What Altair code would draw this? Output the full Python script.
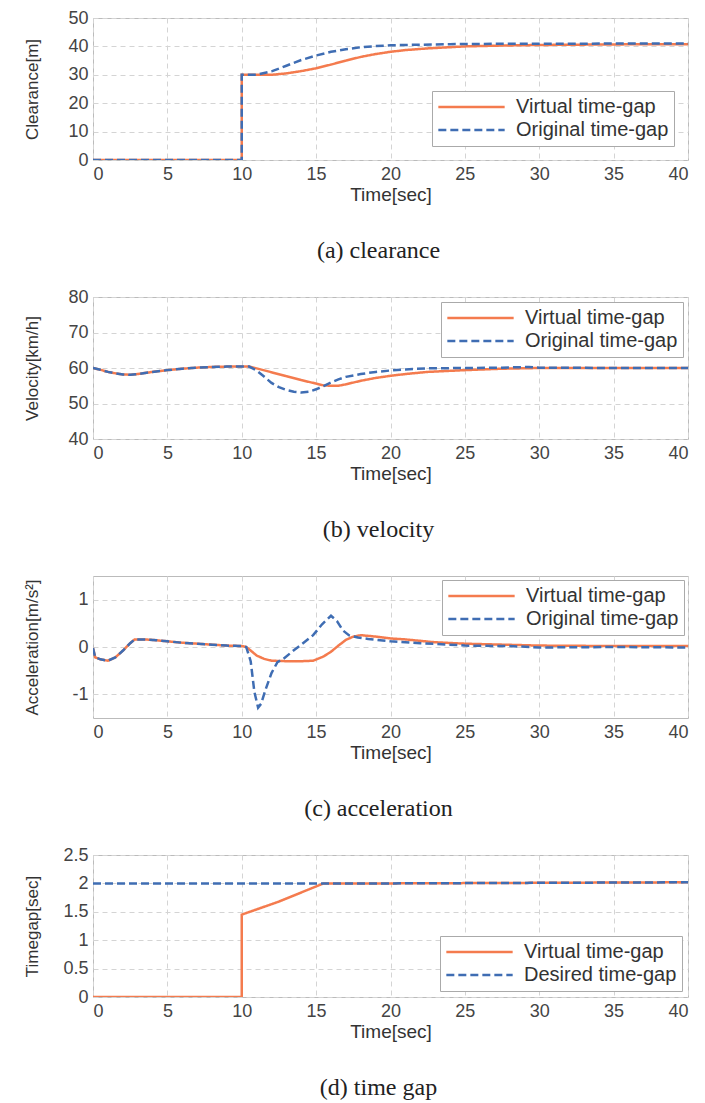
import altair as alt
import pandas as pd

ORANGE = "#F47B4E"
BLUE = "#3F6DB3"

# ---------- (a) clearance ----------
a_t_virtual = [0, 10, 10, 11, 12, 13, 14, 15, 16, 17, 18, 19, 20, 21, 22.5, 25, 27.5, 30, 35, 40]
a_virtual = [0, 0, 30, 30, 30, 30.5, 31.3, 32.3, 33.6, 35.0, 36.3, 37.3, 38.1, 38.7, 39.3, 40.0, 40.3, 40.5, 40.7, 40.8]
a_t_original = [0, 10, 10, 11, 12, 13, 14, 15, 16, 17, 18, 19, 20, 22, 24, 27, 30, 35, 40]
a_original = [0, 0, 30, 30, 31.2, 33.2, 35.2, 36.8, 38.1, 39.0, 39.7, 40.1, 40.4, 40.6, 40.8, 40.9, 40.9, 41, 41]

# ---------- (b) velocity ----------
b_t_virtual = [0, 0.5, 1, 1.5, 2, 2.5, 3, 4, 5, 6, 7, 8, 9, 10, 10.5, 11, 12, 13, 14, 15, 15.5, 16, 16.5,
               17, 18, 19, 20, 21, 22.5, 25, 27.5, 30, 35, 40]
b_virtual = [60, 59.5, 58.9, 58.5, 58.2, 58.1, 58.3, 58.9, 59.4, 59.8, 60.1, 60.3, 60.4, 60.4, 60.4, 59.9, 58.8,
             57.7, 56.6, 55.6, 55.1, 55.0, 55.0, 55.4, 56.4, 57.2, 57.8, 58.3, 58.9, 59.4, 59.8, 60.0, 60.0, 60.0]
b_t_original = [0, 0.5, 1, 1.5, 2, 2.5, 3, 4, 5, 6, 7, 8, 9, 10, 10.5, 11, 11.5, 12, 12.5, 13, 13.5, 14, 14.5,
                15, 15.5, 16, 16.5, 17, 18, 19, 20, 21, 22.5, 25, 27.5, 29.3, 30, 35, 40]
b_original = [60, 59.5, 58.9, 58.5, 58.2, 58.1, 58.3, 58.9, 59.4, 59.8, 60.1, 60.3, 60.4, 60.4, 60.4, 59.3, 57.6,
              55.8, 54.6, 53.8, 53.3, 53.1, 53.3, 54.0, 54.9, 55.9, 56.8, 57.5, 58.3, 58.9, 59.3, 59.6, 59.9,
              60.0, 60.1, 60.3, 60.1, 60.0, 60.0]

# ---------- (c) acceleration ----------
c_t_virtual = [0, 0.15, 0.5, 1, 1.5, 2, 2.5, 2.8, 3.5, 4, 5, 6, 7, 8, 9, 10, 10.3, 10.7, 11, 11.5, 12, 13, 14,
               14.8, 15.5, 16, 16.5, 17, 17.5, 18, 19, 20, 21, 22, 23, 25, 27.5, 30, 35, 40]
c_virtual = [-0.02, -0.22, -0.26, -0.29, -0.22, -0.08, 0.08, 0.16, 0.16, 0.15, 0.12, 0.09, 0.07, 0.05, 0.03,
             0.02, 0.0, -0.1, -0.18, -0.25, -0.29, -0.3, -0.3, -0.29, -0.2, -0.1, 0.03, 0.15, 0.22, 0.25,
             0.22, 0.18, 0.16, 0.13, 0.1, 0.07, 0.05, 0.03, 0.02, 0.02]
c_t_original = [0, 0.15, 0.5, 1, 1.5, 2, 2.5, 2.8, 3.5, 4, 5, 6, 7, 8, 9, 10, 10.3, 10.6, 10.85, 11.1, 11.3,
                11.6, 12, 12.4, 12.8, 13.5, 14, 14.8, 15.4, 16, 16.4, 16.8, 17.2, 17.8, 18.5, 20, 22, 24, 25,
                28, 30, 35, 40]
c_original = [-0.02, -0.22, -0.26, -0.29, -0.22, -0.08, 0.08, 0.16, 0.16, 0.15, 0.12, 0.09, 0.07, 0.05, 0.03,
              0.02, 0.0, -0.3, -0.95, -1.28, -1.2, -0.9, -0.55, -0.32, -0.25, -0.07, 0.05, 0.25, 0.48, 0.66,
              0.55, 0.35, 0.25, 0.2, 0.17, 0.12, 0.08, 0.05, 0.03, 0.02, -0.01, 0.0, -0.01]

# ---------- (d) time gap ----------
d_t_virtual = [0, 10, 10, 12.5, 15.5, 20, 30, 40]
d_virtual = [0, 0, 1.45, 1.68, 2.0, 2.0, 2.01, 2.02]
d_t_desired = [0, 20, 40]
d_desired = [2.0, 2.0, 2.02]

x_ticks = [0, 5, 10, 15, 20, 25, 30, 35, 40]

LABEL_EXPR = "datum.value < 0 ? '-' + format(-datum.value, '~g') : format(datum.value, '~g')"


def make_df(series):
    rows = []
    for name, ts, vs in series:
        for i, (t, v) in enumerate(zip(ts, vs)):
            rows.append({"series": name, "t": t, "v": v, "idx": i})
    return pd.DataFrame(rows)


def panel(series, ydomain, yticks, ytitle, caption, legend_orient, legend_offset):
    df = make_df(series)
    names = [s[0] for s in series]
    leg = alt.Legend(
        title=None, orient=legend_orient, symbolType="stroke", symbolSize=4400,
        symbolStrokeWidth=2.5, clipHeight=22, labelFontSize=20, labelFont="Liberation Sans",
        labelColor="#333", strokeColor="#aaa", fillColor="white", padding=5, offset=legend_offset,
        labelOffset=10, rowPadding=1, labelLimit=300,
    )
    return alt.Chart(df).mark_line(strokeWidth=2.5, clip=True).encode(
        x=alt.X("t:Q", scale=alt.Scale(domain=[0, 40], nice=False),
                axis=alt.Axis(values=x_ticks, title="Time[sec]")),
        y=alt.Y("v:Q", scale=alt.Scale(domain=ydomain, nice=False),
                axis=alt.Axis(values=yticks, title=ytitle, labelExpr=LABEL_EXPR)),
        color=alt.Color("series:N", scale=alt.Scale(domain=names, range=[ORANGE, BLUE]), legend=leg),
        strokeDash=alt.StrokeDash("series:N", scale=alt.Scale(domain=names, range=[[1, 0], [8, 4]]),
                                  legend=leg),
        order=alt.Order("idx:Q"),
        detail="series:N",
    ).properties(
        width=595, height=142,
        title=alt.TitleParams(caption, orient="bottom", font="Liberation Serif", fontSize=24,
                              fontWeight="normal", color="#222", offset=35, frame="group", dx=-12),
    )


def independent(c):
    return c.resolve_scale(
        color="independent", strokeDash="independent", x="independent", y="independent"
    ).resolve_legend(color="independent", strokeDash="independent")


pa = panel([("Virtual time-gap", a_t_virtual, a_virtual),
            ("Original time-gap", a_t_original, a_original)],
           [0, 50], [0, 10, 20, 30, 40, 50], "Clearance[m]", "(a) clearance", "bottom-right", 14)
pb = panel([("Virtual time-gap", b_t_virtual, b_virtual),
            ("Original time-gap", b_t_original, b_original)],
           [40, 80], [40, 50, 60, 70, 80], "Velocity[km/h]", "(b) velocity", "top-right", 5)
pc = panel([("Virtual time-gap", c_t_virtual, c_virtual),
            ("Original time-gap", c_t_original, c_original)],
           [-1.5, 1.5], [-1, 0, 1], "Acceleration[m/s²]", "(c) acceleration", "top-right", 4)
pd_ = panel([("Virtual time-gap", d_t_virtual, d_virtual),
             ("Desired time-gap", d_t_desired, d_desired)],
            [0, 2.5], [0, 0.5, 1, 1.5, 2, 2.5], "Timegap[sec]", "(d) time gap", "bottom-right", 6)

top = independent(alt.vconcat(pa, pb, spacing=23))
bottom = independent(alt.vconcat(pc, pd_, spacing=23))

chart = independent(alt.vconcat(top, bottom, spacing=32)).properties(
    padding={"top": 0, "left": 14, "right": 5, "bottom": 2}
).configure_view(
    stroke="#bbb", strokeWidth=1
).configure_axis(
    grid=True, gridDash=[5, 4], gridColor="#d4d4d4", gridWidth=1,
    domain=False, ticks=False,
    labelFont="Liberation Sans", labelFontSize=18, labelColor="#444", labelPadding=5,
    titleFont="Liberation Sans", titleFontSize=17, titleFontWeight="normal", titleColor="#333",
).configure_axisY(
    titleX=-52, titlePadding=6,
).configure_axisX(
    titleFontSize=19, titlePadding=2,
)

chart.save("out.html", embed_options={"renderer": "svg", "actions": False})
